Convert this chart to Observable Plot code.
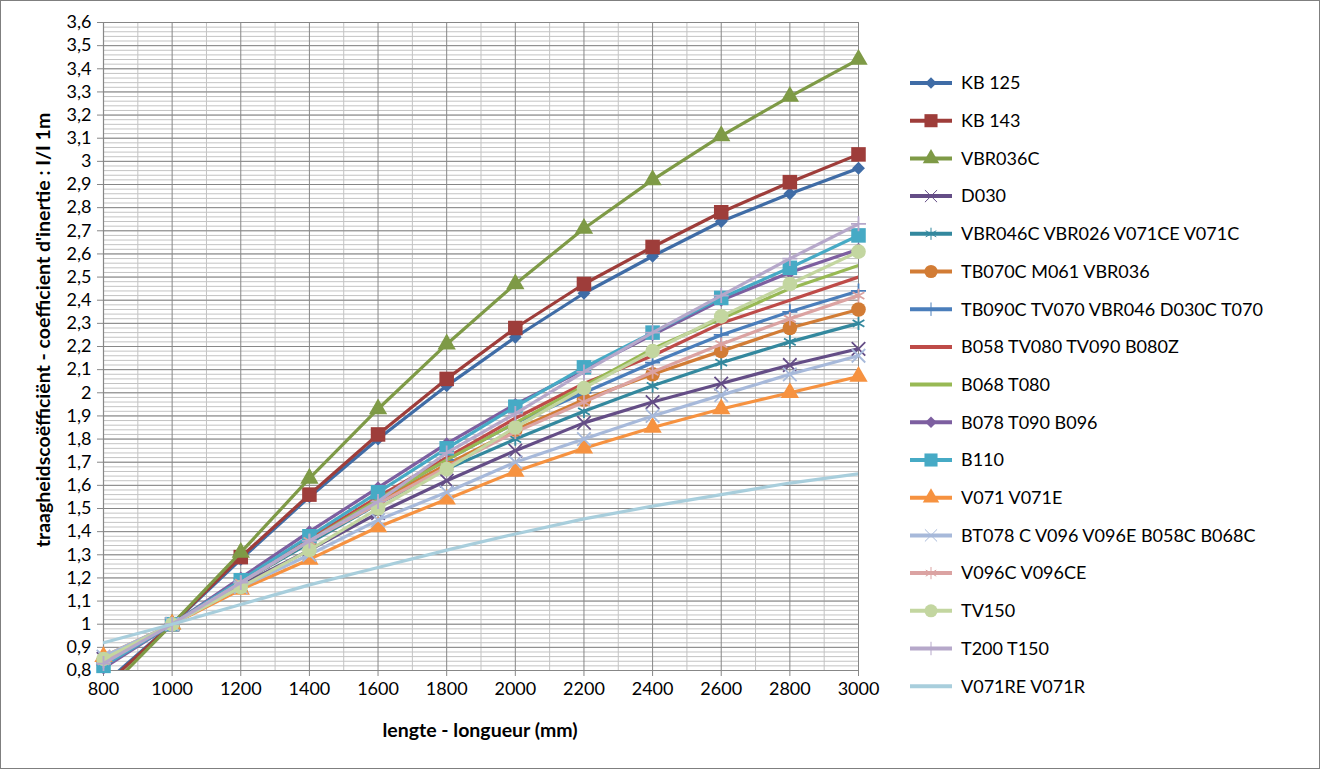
<!DOCTYPE html>
<html>
<head>
<meta charset="utf-8">
<script src="https://cdn.jsdelivr.net/npm/d3@7"></script>
<script src="https://cdn.jsdelivr.net/npm/@observablehq/plot@0.6"></script>
<style>
  body { margin: 0; background: #fff; }
  #chart { position: relative; width: 1320px; height: 769px; overflow: hidden; font-family: Lato, sans-serif; background: #fff; }
  #chart > svg { position: absolute; left: 0; top: 0; }
  #frame { position: absolute; left: 0; top: 0; width: 1320px; height: 769px; box-sizing: border-box; border: 1px solid #7f7f7f; pointer-events: none; }
  .axis-title { position: absolute; font-weight: bold; font-size: 19.5px; color: #000; white-space: nowrap; }
  #xtitle { left: 480px; top: 729px; transform: translate(-50%, -50%); }
  #ytitle { left: 42px; top: 330px; transform: translate(-50%, -50%) rotate(-90deg); }
</style>
</head>
<body>
<div id="chart">
  <div id="xtitle" class="axis-title">lengte - longueur (mm)</div>
  <div id="ytitle" class="axis-title">traagheidscoëfficiënt - coefficient d'inertie : I/I 1m</div>
  <div id="frame"></div>
</div>
<script>
// ---- data ----
const lengths = [800, 1000, 1200, 1400, 1600, 1800, 2000, 2200, 2400, 2600, 2800, 3000];
const xTicks = [800, 1000, 1200, 1400, 1600, 1800, 2000, 2200, 2400, 2600, 2800, 3000];
const yTicks = [0.8, 0.9, 1.0, 1.1, 1.2, 1.3, 1.4, 1.5, 1.6, 1.7, 1.8, 1.9, 2.0, 2.1, 2.2, 2.3, 2.4, 2.5, 2.6, 2.7, 2.8, 2.9, 3.0, 3.1, 3.2, 3.3, 3.4, 3.5, 3.6];

const seriesNames = [
  "KB 125", "KB 143", "VBR036C", "D030", "VBR046C VBR026 V071CE V071C",
  "TB070C M061 VBR036", "TB090C TV070 VBR046 D030C T070", "B058 TV080 TV090 B080Z",
  "B068 T080", "B078 T090 B096", "B110", "V071 V071E",
  "BT078 C V096 V096E B058C B068C", "V096C V096CE", "TV150", "T200 T150", "V071RE V071R"
];

const KB125   = [0.74, 1.00, 1.28, 1.55, 1.80, 2.03, 2.24, 2.43, 2.59, 2.74, 2.86, 2.97];
const KB143   = [0.73, 1.00, 1.29, 1.56, 1.82, 2.06, 2.28, 2.47, 2.63, 2.78, 2.91, 3.03];
const VBR036C = [0.70, 1.00, 1.31, 1.63, 1.93, 2.21, 2.47, 2.71, 2.92, 3.11, 3.28, 3.44];
const D030    = [0.85, 1.00, 1.17, 1.32, 1.48, 1.62, 1.75, 1.87, 1.96, 2.04, 2.12, 2.19];
const VBR046C = [0.84, 1.00, 1.18, 1.35, 1.52, 1.67, 1.80, 1.92, 2.03, 2.13, 2.22, 2.30];
const TB070C  = [0.84, 1.00, 1.18, 1.36, 1.53, 1.69, 1.84, 1.97, 2.08, 2.18, 2.28, 2.36];
const TB090C  = [0.83, 1.00, 1.18, 1.36, 1.54, 1.71, 1.87, 2.00, 2.13, 2.25, 2.35, 2.44];
const B058    = [0.83, 1.00, 1.19, 1.37, 1.55, 1.72, 1.89, 2.04, 2.16, 2.30, 2.40, 2.50];
const B068    = [0.83, 1.00, 1.18, 1.36, 1.54, 1.71, 1.87, 2.03, 2.19, 2.32, 2.45, 2.55];
const B078    = [0.81, 1.00, 1.20, 1.40, 1.59, 1.78, 1.95, 2.10, 2.25, 2.40, 2.52, 2.62];
const B110    = [0.82, 1.00, 1.19, 1.38, 1.57, 1.76, 1.94, 2.11, 2.26, 2.41, 2.54, 2.68];
const V071    = [0.86, 1.00, 1.15, 1.28, 1.42, 1.54, 1.66, 1.76, 1.85, 1.93, 2.00, 2.07];
const BT078   = [0.86, 1.00, 1.16, 1.30, 1.45, 1.57, 1.70, 1.80, 1.90, 1.99, 2.08, 2.16];
const V096C   = [0.84, 1.00, 1.18, 1.36, 1.52, 1.68, 1.83, 1.96, 2.09, 2.21, 2.32, 2.42];
const TV150   = [0.85, 1.00, 1.16, 1.32, 1.50, 1.67, 1.85, 2.02, 2.18, 2.33, 2.47, 2.61];
const T200    = [0.83, 1.00, 1.18, 1.36, 1.53, 1.74, 1.91, 2.09, 2.26, 2.42, 2.58, 2.73];
const V071RE  = [0.92, 1.00, 1.085, 1.17, 1.245, 1.32, 1.39, 1.455, 1.51, 1.56, 1.61, 1.65];

const seriesValues = [KB125, KB143, VBR036C, D030, VBR046C, TB070C, TB090C, B058, B068, B078, B110, V071, BT078, V096C, TV150, T200, V071RE];

// ---- styles ----
const colors = ["#3F6CA6", "#9E3D3A", "#7E9A46", "#644D86", "#33889E", "#D27C35",
  "#4A7EBB", "#BE4B48", "#98B954", "#7D5FA0", "#46AAC5", "#F69240",
  "#A7B9DA", "#DBA3A2", "#C3D6A0", "#B6A8CA", "#A8CEDC"];
// marker: [plot symbol, filled?, r]
const markers = [
  ["diamond2", true, 5.8], ["square", true, 8.2], ["triangle", true, 6.8], ["times", false, 6.2], ["asterisk", false, 6.4], ["circle", true, 7.3],
  ["plus", false, 4.9], null, null, ["diamond2", true, 5.8], ["square", true, 8.2], ["triangle", true, 6.8],
  ["times", false, 6.2], ["asterisk", false, 6.4], ["circle", true, 7.3], ["plus", false, 4.9], null
];

const fmt = d => d.toFixed(1).replace(/\.0$/, "").replace(".", ",");
const gridMajor = "#878787", gridMinor = "#c3c3c3";

const yMinor = d3.range(0.8, 3.6001, 0.02).map(v => +v.toFixed(2));
const xMinor = d3.range(900, 3000, 200);

const marks = [
  Plot.ruleY(yMinor, {stroke: gridMinor, strokeWidth: 1}),
  Plot.ruleX(xMinor, {stroke: gridMinor, strokeWidth: 1}),
  Plot.ruleY(yTicks, {stroke: gridMajor, strokeWidth: 1}),
  Plot.ruleX(xTicks, {stroke: gridMajor, strokeWidth: 1}),
  Plot.ruleX([800], {stroke: gridMajor, strokeWidth: 1.2}),
  Plot.ruleY([0.8], {stroke: gridMajor, strokeWidth: 1.2})
];

seriesValues.forEach((vals, i) => {
  const data = lengths.map((x, j) => ({x, y: vals[j]}));
  marks.push(Plot.line(data, {x: "x", y: "y", stroke: colors[i], strokeWidth: 3.2, clip: true}));
  const m = markers[i];
  if (m) {
    const opts = {x: "x", y: "y", symbol: m[0], r: m[2], filter: d => d.y >= 0.8};
    if (m[1]) { opts.fill = colors[i]; opts.stroke = "none"; }
    else { opts.fill = "none"; opts.stroke = colors[i]; opts.strokeWidth = 1.8; }
    marks.push(Plot.dot(data, opts));
  }
});

const chart = Plot.plot({
  width: 1320,
  height: 769,
  marginLeft: 103,
  marginRight: 462,
  marginTop: 22,
  marginBottom: 99,
  style: {fontFamily: "Lato, sans-serif", fontSize: "18px", color: "#000", background: "transparent", overflow: "visible"},
  x: {domain: [800, 3000], ticks: xTicks, tickFormat: d => String(d), tickSize: 6, tickPadding: 6, label: null},
  y: {domain: [0.8, 3.6], ticks: yTicks, tickFormat: fmt, tickSize: 6, tickPadding: 6, label: null},
  marks
});

// grey tick marks, black text
d3.select(chart).selectAll("g[aria-label^='x-axis'] line, g[aria-label^='x-axis'] path, g[aria-label^='y-axis'] line, g[aria-label^='y-axis'] path")
  .attr("stroke", gridMajor);

const host = document.getElementById("chart");
host.insertBefore(chart, host.firstChild);

// ---- legend ----
const legend = d3.select(host).append("svg")
  .attr("width", 420).attr("height", 700)
  .style("position", "absolute").style("left", "900px").style("top", "50px")
  .style("font-family", "Lato, sans-serif").style("font-size", "18px");

const typeMap = {diamond2: d3.symbolDiamond2, square: d3.symbolSquare, triangle: d3.symbolTriangle, times: d3.symbolTimes, asterisk: d3.symbolAsterisk, circle: d3.symbolCircle, plus: d3.symbolPlus};
seriesNames.forEach((name, i) => {
  const cy = 33 + i * 37.7;
  const g = legend.append("g").attr("transform", `translate(0,${cy})`);
  g.append("line").attr("x1", 10).attr("x2", 52).attr("y1", 0).attr("y2", 0)
    .attr("stroke", colors[i]).attr("stroke-width", 4);
  const m = markers[i];
  if (m) {
    const rr = m[2] * 0.9;
    const p = g.append("path").attr("transform", "translate(31,0)")
      .attr("d", d3.symbol(typeMap[m[0]], rr * rr * Math.PI)());
    if (m[1]) p.attr("fill", colors[i]);
    else p.attr("fill", "none").attr("stroke", colors[i]).attr("stroke-width", 1);
  }
  g.append("text").attr("x", 61).attr("y", 0).attr("dy", "0.35em").attr("fill", "#000").text(name);
});
</script>
</body>
</html>
